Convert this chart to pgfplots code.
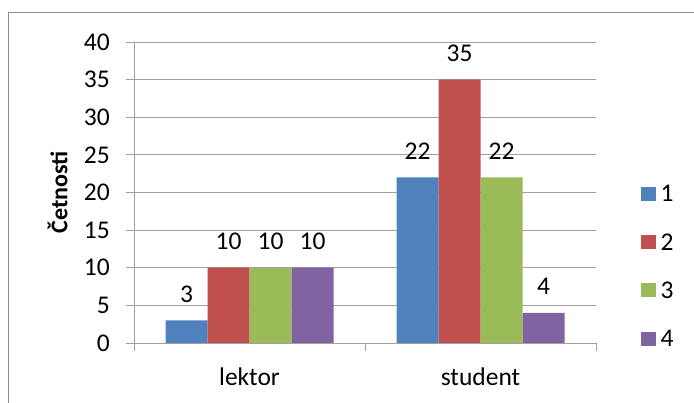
\documentclass[border=0pt]{standalone}
\usepackage{fontspec}
\setmainfont{Carlito}
\usepackage{pgfplots}
\pgfplotsset{compat=1.18}
\definecolor{s1}{HTML}{4F81BD}
\definecolor{s2}{HTML}{C0504D}
\definecolor{s3}{HTML}{9BBB59}
\definecolor{s4}{HTML}{8064A2}
\definecolor{gridc}{HTML}{A0A0A0}
\definecolor{framec}{HTML}{8C8C8C}
\begin{document}
\begin{tikzpicture}[x=1pt,y=1pt]
\useasboundingbox (0,0) rectangle (694,403);
\draw[framec, line width=1pt] (8.5,-20) -- (8.5,390.5) -- (720,390.5);
\begin{axis}[
  at={(134pt,60pt)}, anchor=south west,
  scale only axis, width=462pt, height=301pt,
  ybar=0pt, bar width=42pt,
  enlargelimits=false,
  xmin=-0.5, xmax=1.5, ymin=0, ymax=40,
  ytick={0,5,...,40},
  xtick={0,1}, xticklabels={lektor,student},
  minor xtick={-0.5,0.5,1.5},
  axis x line*=bottom, axis y line*=left,
  axis line style={gridc, line width=0.8pt, -},
  ymajorgrids, major grid style={gridc, line width=0.8pt},
  tick align=outside,
  major x tick style={draw=none},
  minor x tick style={gridc, line width=0.8pt},
  minor tick length=8pt,
  major tick length=8pt,
  y tick style={gridc, line width=0.8pt},
  font=\fontsize{25.5}{30}\selectfont,
  /pgf/number format/assume math mode=true,
  yticklabel style={anchor=east, inner sep=0pt, xshift=-16pt},
  xticklabel style={anchor=north, inner sep=0pt, yshift=-17pt},
  ylabel={\bfseries Četnosti},
  ylabel style={at={(axis description cs:-0.1656,0.5)}, anchor=center, font=\fontsize{24}{28}\selectfont},
  nodes near coords,
  nodes near coords style={font=\fontsize{25.5}{30}\selectfont, black, inner sep=0pt, anchor=south, yshift=18pt},
  legend style={at={(axis description cs:1.0974,0.5226)}, anchor=north west, draw=none, fill=none,
    inner sep=0pt, row sep=32.3pt, column sep=5pt,
    nodes={inner sep=0pt, anchor=west, text height=16pt, text depth=0pt}},
  legend cell align=left,
  legend image code/.code={\fill[#1] (0pt,-7pt) rectangle (14.5pt,7pt);},
]
\addplot[fill=s1, draw=none] coordinates {(0,3) (1,22)};
\addplot[fill=s2, draw=none] coordinates {(0,10) (1,35)};
\addplot[fill=s3, draw=none] coordinates {(0,10) (1,22)};
\addplot[fill=s4, draw=none] coordinates {(0,10) (1,4)};
\legend{1,2,3,4}
\end{axis}
\end{tikzpicture}
\end{document}
